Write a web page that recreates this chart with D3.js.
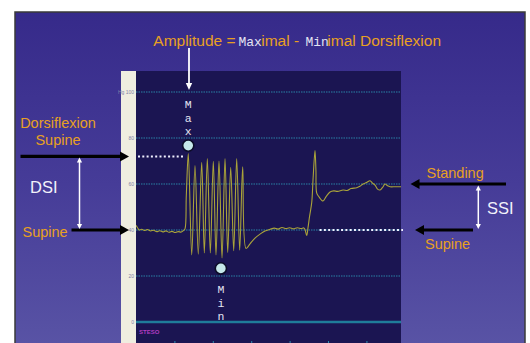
<!DOCTYPE html>
<html><head><meta charset="utf-8">
<script src="https://cdn.jsdelivr.net/npm/d3@7"></script>
<style>html,body{margin:0;padding:0;background:#fff;overflow:hidden}</style>
</head><body><svg id="c" width="530" height="343"></svg>
<script>
// ---- data (time in s, pressure in mmHg) ----
const timeSec = [0,0.4,0.8,1.5,2.2,3.0,3.8,4.6,5.4,6.2,7.0,7.8,8.6,9.4,10.2,11.0,11.8,12.4,12.76,13.1,13.62,
  14.51,15.36,16.22,17.11,17.79,18.57,19.35,20.13,20.83,21.61,22.40,23.18,23.88,24.66,25.44,26.22,27.00,27.78,28.65,
  29.69,30.99,32.29,33.59,34.90,36,37,38,39,40,41,42,43,43.7,44.01,44.45,44.79,45.2,45.76,46.1,46.61,46.85,47.06,47.6,
  48.70,49.5,50.52,51.5,52.5,53.91,55,56,57.47,58.3,59.11,60.0,60.94,61.5,62.24,62.9,63.54,64.2,64.84,65.5,66.15,67.5,69.01];
const pressure = [42.0,41.0,40.0,40.3,39.8,40.2,39.6,39.9,39.3,39.7,39.2,39.6,39.0,39.4,38.9,39.3,39.1,39.8,40.5,55,73.2,
  29.2,68.0,29.5,69.4,30.0,71.1,30.0,69.9,29.2,70.0,27.8,71.1,30.2,67.3,31.0,71.1,31.2,67.5,32.0,
  34.0,36.5,38.2,39.6,40.3,40.8,40.4,41.1,40.6,41.0,40.5,41.0,40.6,40.9,40.2,37.6,41.0,46,52,62,74.5,66,56,54.5,
  52.6,54.5,56.5,57.0,56.8,57.4,57.2,58.0,58.4,59.0,60.0,60.6,61.4,60.5,59.5,57.8,57.4,58.5,60.0,59.2,58.8,58.8,58.8];
const yTicks = [0,20,40,60,80,100];
const xTicks = [10,20,30,40,50,60];
const levelDorsiflexionSupine = 72;
const levelSupine = 40;
const levelStanding = 60;
const maxMarker = [13.6, 76.7];
const minMarker = [22.1, 23.3];

const svg = d3.select("#c");
const defs = svg.append("defs");
const g = defs.append("linearGradient").attr("id","bg").attr("x1",0).attr("y1",0).attr("x2",0).attr("y2",1);
g.append("stop").attr("offset","0%").attr("stop-color","#362a8a");
g.append("stop").attr("offset","50%").attr("stop-color","#463c98");
g.append("stop").attr("offset","100%").attr("stop-color","#5a55a6");
defs.append("clipPath").attr("id","pc").append("rect").attr("x",136).attr("y",71).attr("width",265).attr("height",280);

// slide
svg.append("rect").attr("x",15).attr("y",12).attr("width",510).attr("height",345)
  .attr("fill","url(#bg)").attr("stroke","#3a3a3a").attr("stroke-width",1.5);

// panels
svg.append("rect").attr("x",121).attr("y",71).attr("width",15).attr("height",280).attr("fill","#efede0");
svg.append("rect").attr("x",136).attr("y",71).attr("width",265).attr("height",280).attr("fill","#1b1552");

const x = d3.scaleLinear().domain([0,69]).range([136,401]);
const y = d3.scaleLinear().domain([0,100]).range([322,92]);

// gridlines
svg.append("g").selectAll("line").data(yTicks).join("line")
  .attr("x1",136).attr("x2",401).attr("y1",d=>y(d)).attr("y2",d=>y(d))
  .attr("stroke",d=>d===0?"#1f7d9a":"#2c8fb0")
  .attr("stroke-width",d=>d===0?2.5:0.9)
  .attr("stroke-dasharray",d=>d===0?null:"1.5,1");

// y axis labels
const ya = svg.append("g").attr("transform","translate(134,0)")
  .call(d3.axisLeft(y).tickValues(yTicks).tickSize(0).tickPadding(0).tickFormat(d=>d===100?"Hg 100":d));
ya.select(".domain").remove();
ya.selectAll("text").attr("font-size",5).attr("fill","#8484a8").attr("font-family","Liberation Sans, Arial");

// x axis ticks
const xa = svg.append("g").attr("transform","translate(0,341)")
  .call(d3.axisBottom(x).tickValues(xTicks).tickSize(4).tickFormat(""));
xa.select(".domain").remove();
xa.selectAll("line").attr("stroke","#2c8fb0");

svg.append("text").attr("x",139).attr("y",334).text("STESO")
  .attr("font-family","Liberation Sans Narrow, Liberation Sans, Arial").attr("font-weight","bold")
  .attr("font-size",6).attr("fill","#b03cc0");

// trace
const pts = timeSec.map((t,i)=>[t,pressure[i]]);
svg.append("path").datum(pts).attr("clip-path","url(#pc)")
  .attr("d",d3.line().x(d=>x(d[0])).y(d=>y(d[1])).curve(d3.curveCatmullRom.alpha(0.5)))
  .attr("fill","none").attr("stroke","#aaa33a").attr("stroke-width",1.1);

// dotted reference lines
svg.append("line").attr("x1",138).attr("x2",x(12.8)).attr("y1",y(levelDorsiflexionSupine)).attr("y2",y(levelDorsiflexionSupine))
  .attr("stroke","#f0f0ff").attr("stroke-width",2).attr("stroke-dasharray","2,2.3");
svg.append("line").attr("x1",x(47.8)).attr("x2",403).attr("y1",y(levelSupine)).attr("y2",y(levelSupine))
  .attr("stroke","#f0f0ff").attr("stroke-width",2).attr("stroke-dasharray","2,2.3");

// markers
[maxMarker,minMarker].forEach(m=>{
  svg.append("circle").attr("cx",x(m[0])).attr("cy",y(m[1])).attr("r",5.6)
    .attr("fill","#c6e8ea").attr("stroke","#0c0c28").attr("stroke-width",1.6);
});

const mono = "Liberation Mono, DejaVu Sans Mono, monospace";
const sans = "Liberation Sans, Arial, sans-serif";
const orange = "#e8a022";
const whiteTxt = "#e4e4f2";

// vertical Max / Min
["M","a","x"].forEach((c,i)=>svg.append("text").attr("x",x(maxMarker[0])).attr("y",108+i*13.5)
  .attr("text-anchor","middle").attr("font-family",mono).attr("font-size",11.5).attr("fill",whiteTxt).text(c));
["M","i","n"].forEach((c,i)=>svg.append("text").attr("x",x(minMarker[0])).attr("y",293+i*13.5)
  .attr("text-anchor","middle").attr("font-family",mono).attr("font-size",11.5).attr("fill",whiteTxt).text(c));

// title
const titleParts = [
  {t:"Amplitude =", x:153.3, f:sans, c:orange, s:15.5},
  {t:"Max", x:238.5, f:mono, c:whiteTxt, s:13},
  {t:"imal -", x:261.2, f:sans, c:orange, s:15.5},
  {t:"Min", x:305.5, f:mono, c:whiteTxt, s:13},
  {t:"imal Dorsiflexion", x:327.3, f:sans, c:orange, s:15.5}
];
titleParts.forEach(p=>svg.append("text").attr("x",p.x).attr("y",46).attr("font-family",p.f)
  .attr("font-size",p.s).attr("fill",p.c).text(p.t));

// arrow helpers
function arrowH(x1,x2,yy,color,w,hl,hw){
  const dir = Math.sign(x2-x1);
  svg.append("line").attr("x1",x1).attr("x2",x2-dir*hl*0.8).attr("y1",yy).attr("y2",yy)
    .attr("stroke",color).attr("stroke-width",w);
  svg.append("path").attr("d",`M${x2},${yy} L${x2-dir*hl},${yy-hw} L${x2-dir*hl},${yy+hw} Z`).attr("fill",color);
}
function arrowV(xx,y1,y2,color,w,hl,hw,both){
  const dir = Math.sign(y2-y1);
  svg.append("line").attr("x1",xx).attr("x2",xx).attr("y1",both?y1+dir*hl*0.8:y1).attr("y2",y2-dir*hl*0.8)
    .attr("stroke",color).attr("stroke-width",w);
  svg.append("path").attr("d",`M${xx},${y2} L${xx-hw},${y2-dir*hl} L${xx+hw},${y2-dir*hl} Z`).attr("fill",color);
  if(both) svg.append("path").attr("d",`M${xx},${y1} L${xx-hw},${y1+dir*hl} L${xx+hw},${y1+dir*hl} Z`).attr("fill",color);
}

// title arrow
arrowV(189,48,90,"#ffffff",1.8,7,3.2,false);

// left side
arrowH(20.5,129,y(levelDorsiflexionSupine),"#000000",3.2,9,5);
arrowH(71.5,129,y(levelSupine),"#000000",3.2,9,5);
arrowV(79.5,y(levelDorsiflexionSupine)+1,y(levelSupine)-1,"#ffffff",1.5,5,2.6,true);
svg.append("text").attr("x",58).attr("y",128).attr("text-anchor","middle").attr("font-family",sans)
  .attr("font-size",14.5).attr("fill",orange).text("Dorsiflexion");
svg.append("text").attr("x",58).attr("y",144.5).attr("text-anchor","middle").attr("font-family",sans)
  .attr("font-size",14.5).attr("fill",orange).text("Supine");
svg.append("text").attr("x",22.5).attr("y",237).attr("font-family",sans)
  .attr("font-size",14.5).attr("fill",orange).text("Supine");
svg.append("text").attr("x",30).attr("y",193).attr("font-family",sans)
  .attr("font-size",16.5).attr("fill","#f2f2fa").text("DSI");

// right side
arrowH(506,410.5,y(levelStanding),"#000000",3.2,9,5);
arrowH(473,415,y(levelSupine),"#000000",3.2,9,5);
arrowV(478.3,y(levelStanding)+1.5,y(levelSupine)-1,"#ffffff",1.5,5,2.6,true);
svg.append("text").attr("x",426.5).attr("y",177.5).attr("font-family",sans)
  .attr("font-size",14.5).attr("fill",orange).text("Standing");
svg.append("text").attr("x",425).attr("y",249).attr("font-family",sans)
  .attr("font-size",14.5).attr("fill",orange).text("Supine");
svg.append("text").attr("x",487).attr("y",213.5).attr("font-family",sans)
  .attr("font-size",16.5).attr("fill","#f2f2fa").text("SSI");
</script></body></html>
